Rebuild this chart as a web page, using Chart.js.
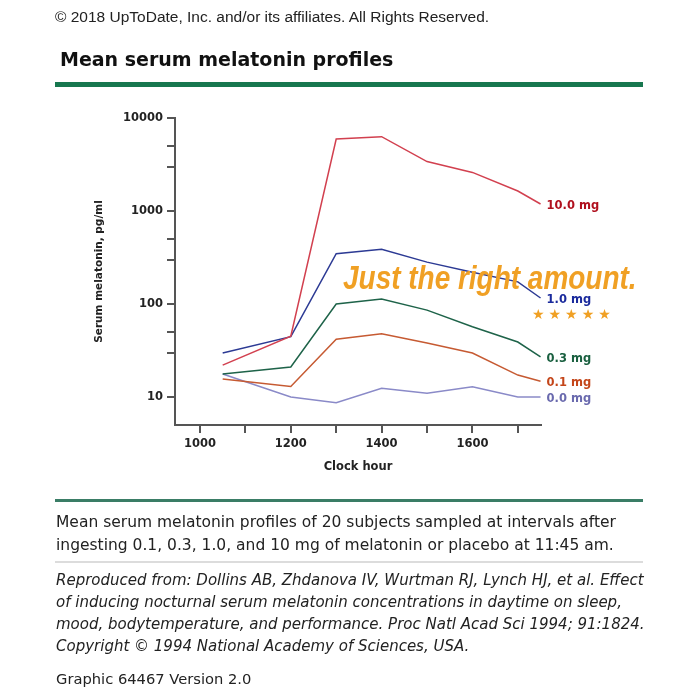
<!DOCTYPE html>
<html>
<head>
<meta charset="utf-8">
<script src="https://cdn.jsdelivr.net/npm/chart.js@4"></script>
<style>
  body { margin: 0; background: #fff; }
  #wrap { position: relative; width: 700px; height: 700px; overflow: hidden; }
  #wrap canvas { position: absolute; left: 0; top: 0; }
  .t { position: absolute; white-space: nowrap; color: #222; }
  #copy { left: 55px; top: 8px; font: 15.5px "Liberation Sans", Arial, sans-serif; }
  #title { left: 60px; top: 48px; font: bold 19px "DejaVu Sans", Verdana, sans-serif; color: #111; }
  #bar { position: absolute; left: 55px; top: 82px; width: 588px; height: 5px; background: #17774f; }
  #line2 { position: absolute; left: 55px; top: 499px; width: 588px; height: 3px; background: #3a7d66; }
  #line3 { position: absolute; left: 55px; top: 561px; width: 588px; height: 2px; background: #dcdcdc; }
  #caption { left: 56px; top: 511px; font: 15.5px "DejaVu Sans", sans-serif; line-height: 23px; }
  #cite { left: 56px; top: 569px; font: italic 15px "DejaVu Sans", sans-serif; line-height: 22px; }
  #graphic { left: 56px; top: 670px; font: 14.7px "DejaVu Sans", sans-serif; }
  #promo { left: 343px; top: 259px; font: italic bold 33px "Liberation Sans", sans-serif; color: #f0a024; transform-origin: left top; }
  #stars { left: 532px; top: 306px; font: 14px "DejaVu Sans", sans-serif; color: #f0a024; letter-spacing: 4px; }
</style>
</head>
<body>
<div id="wrap">
  <canvas id="lineChart" width="700" height="700"></canvas>
  <div class="t" id="copy">© 2018 UpToDate, Inc. and/or its affiliates. All Rights Reserved.</div>
  <div class="t" id="title">Mean serum melatonin profiles</div>
  <div id="bar"></div>
  <div class="t" id="promo">Just the right amount.</div>
  <div class="t" id="stars">★★★★★</div>
  <div id="line2"></div>
  <div class="t" id="caption">Mean serum melatonin profiles of 20 subjects sampled at intervals after<br>ingesting 0.1, 0.3, 1.0, and 10 mg of melatonin or placebo at 11:45 am.</div>
  <div id="line3"></div>
  <div class="t" id="cite">Reproduced from: Dollins AB, Zhdanova IV, Wurtman RJ, Lynch HJ, et al. Effect<br>of inducing nocturnal serum melatonin concentrations in daytime on sleep,<br>mood, bodytemperature, and performance. Proc Natl Acad Sci 1994; 91:1824.<br>Copyright © 1994 National Academy of Sciences, USA.</div>
  <div class="t" id="graphic">Graphic 64467 Version 2.0</div>
</div>
<script>
// clock hour of each sample
const hours = [1050, 1200, 1300, 1400, 1500, 1600, 1700, 1750];

// serum melatonin, pg/ml
const dose10 = [22, 45, 5950, 6300, 3400, 2600, 1640, 1190];
const dose1 = [29.7, 44.6, 347, 388, 282, 220, 173, 116];
const dose03 = [17.7, 21, 100, 113, 86, 57, 39, 27];
const dose01 = [15.6, 13, 41.7, 48, 38, 29.7, 17.2, 14.8];
const dose0 = [17.7, 10, 8.7, 12.4, 11, 12.9, 10, 10];

const seriesLabels = ['10.0 mg', '1.0 mg', '0.3 mg', '0.1 mg', '0.0 mg'];
const xTicks = [1000, 1100, 1200, 1300, 1400, 1500, 1600, 1700];
const xLabelled = [1000, 1200, 1400, 1600];
const yTicks = [10, 30, 50, 100, 300, 500, 1000, 3000, 5000, 10000];
const yLabelled = [10, 100, 1000, 10000];

const lineColors = ['#d2404f', '#2c3a94', '#1e6349', '#c65a32', '#8a8ac8'];
const textColors = ['#b0101e', '#1a2a9c', '#1a6040', '#c4461a', '#6a6aae'];

const toPoints = vals => vals.map((v, i) => ({ x: hours[i], y: v }));
const allSeries = [dose10, dose1, dose03, dose01, dose0];

const data = {
  datasets: allSeries.map((vals, i) => ({
    label: seriesLabels[i],
    data: toPoints(vals),
    borderColor: lineColors[i],
    borderWidth: 1.5,
    pointRadius: 0,
    tension: 0,
    fill: false
  }))
};

// writes the dose next to the last point of each line
const endLabels = {
  id: 'endLabels',
  afterDatasetsDraw(chart) {
    const ctx = chart.ctx;
    ctx.save();
    ctx.font = 'bold 11.5px "DejaVu Sans", Verdana, sans-serif';
    ctx.textBaseline = 'middle';
    chart.data.datasets.forEach((ds, i) => {
      const pts = chart.getDatasetMeta(i).data;
      const last = pts[pts.length - 1];
      ctx.fillStyle = textColors[i];
      ctx.fillText(ds.label, last.x + 6, last.y + 2);
    });
    ctx.restore();
  }
};

const axisFont = { family: '"DejaVu Sans", Verdana, sans-serif', size: 11.5, weight: 'bold' };
const axisGrid = { display: true, drawOnChartArea: false, drawTicks: true, tickLength: 8, color: '#555', lineWidth: 2 };

const config = {
  type: 'line',
  data: data,
  options: {
    responsive: false,
    animation: false,
    layout: { padding: { left: 75, right: 159, top: 118, bottom: 225 } },
    plugins: { legend: { display: false }, tooltip: { enabled: false } },
    scales: {
      x: {
        type: 'linear',
        min: 945,
        max: 1751,
        grid: axisGrid,
        border: { display: true, color: '#555', width: 2 },
        afterBuildTicks: s => { s.ticks = xTicks.map(v => ({ value: v })); },
        afterFit: s => { s.height = 50; },
        ticks: {
          color: '#222',
          font: axisFont,
          padding: 4,
          maxRotation: 0,
          autoSkip: false,
          callback: v => xLabelled.includes(v) ? String(v) : ''
        },
        title: { display: true, text: 'Clock hour', color: '#222', font: axisFont, padding: { top: 0, bottom: 1 } }
      },
      y: {
        type: 'logarithmic',
        min: 5,
        max: 10000,
        grid: axisGrid,
        border: { display: true, color: '#555', width: 2 },
        afterBuildTicks: s => { s.ticks = yTicks.map(v => ({ value: v })); },
        afterFit: s => { s.width = 100; },
        ticks: {
          color: '#222',
          font: axisFont,
          padding: 4,
          autoSkip: false,
          callback: v => yLabelled.includes(v) ? String(v) : ''
        },
        title: { display: true, text: 'Serum melatonin, pg/ml', color: '#222', font: { family: '"DejaVu Sans", Verdana, sans-serif', size: 10.5, weight: 'bold' }, padding: { top: 18, bottom: 0 } }
      }
    }
  },
  plugins: [endLabels]
};

const lineChart = new Chart(document.getElementById('lineChart'), config);

// squeeze the promo line to the width it has in the original
const promo = document.getElementById('promo');
promo.style.transform = 'scaleX(' + (294 / promo.offsetWidth) + ')';
</script>
</body>
</html>
